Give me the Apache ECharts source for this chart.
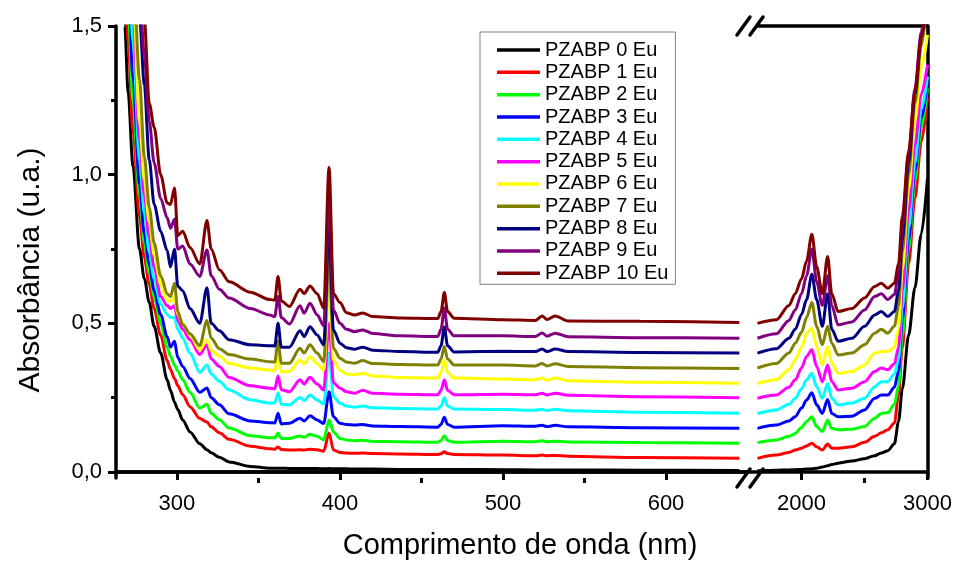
<!DOCTYPE html>
<html>
<head>
<meta charset="utf-8">
<script src="https://cdn.jsdelivr.net/npm/echarts@6/dist/echarts.min.js"></script>
<style>
  html, body { margin: 0; padding: 0; background: #fff; }
  #chart { width: 955px; height: 563px; }
</style>
</head>
<body>
<div id="chart"></div>
<script>
const FONT = 'Liberation Sans, Arial, sans-serif';

// wavelengths (nm) of the two parts of the broken axis
const visNm = [265, 268, 270, 273, 277, 280, 283, 286, 290, 294, 296, 298.5, 300.5, 303.5, 308, 314, 318.4, 321, 326, 332,
  345, 357, 360, 362, 364, 369, 375.5, 378, 381.6, 386, 390, 393.3, 396, 400, 404, 409, 414, 420, 437, 460,
  462, 464, 466, 470, 500, 520, 524, 527, 532, 540, 584, 645];
const nirNm = [1650, 1800, 1900, 1950, 2000, 2040, 2082, 2120, 2165, 2207, 2240, 2290, 2400, 2500, 2580, 2633, 2685, 2737,
  2770, 2800, 2850, 2900, 2950, 3000];

const names = ['PZABP 0 Eu', 'PZABP 1 Eu', 'PZABP 2 Eu', 'PZABP 3 Eu', 'PZABP 4 Eu', 'PZABP 5 Eu',
  'PZABP 6 Eu', 'PZABP 7 Eu', 'PZABP 8 Eu', 'PZABP 9 Eu', 'PZABP 10 Eu'];
const colors = ['#000000', '#ff0000', '#00ff00', '#0000ff', '#00ffff', '#ff00ff',
  '#ffff00', '#808000', '#000080', '#800080', '#800000'];

// absorbance, UV-Vis part
const vis0 = [2.2, 1.5, 1.28, 1.03, 0.75, 0.65, 0.57, 0.49, 0.40, 0.31, 0.275, 0.235, 0.21, 0.175, 0.135, 0.095, 0.075, 0.065, 0.05, 0.034,
  0.019, 0.013, 0.013, 0.013, 0.013, 0.012, 0.012, 0.012, 0.012, 0.012, 0.011, 0.012, 0.011, 0.011, 0.011, 0.01, 0.01, 0.01, 0.009, 0.009,
  0.009, 0.009, 0.009, 0.009, 0.008, 0.007, 0.007, 0.007, 0.007, 0.007, 0.006, 0.005];
const vis1 = [2.5, 1.7, 1.45, 1.15, 0.86, 0.72, 0.63, 0.55, 0.46, 0.375, 0.345, 0.315, 0.29, 0.26, 0.22, 0.18, 0.168, 0.152, 0.132, 0.11,
  0.087, 0.078, 0.077, 0.084, 0.076, 0.074, 0.075, 0.074, 0.077, 0.075, 0.07, 0.131, 0.074, 0.066, 0.064, 0.063, 0.064, 0.062, 0.061, 0.059,
  0.062, 0.068, 0.062, 0.059, 0.057, 0.055, 0.057, 0.055, 0.056, 0.053, 0.049, 0.046];
const vis2 = [2.6, 1.85, 1.56, 1.25, 0.93, 0.77, 0.67, 0.59, 0.50, 0.42, 0.39, 0.36, 0.34, 0.31, 0.268, 0.215, 0.228, 0.198, 0.176, 0.148,
  0.122, 0.115, 0.115, 0.131, 0.113, 0.113, 0.121, 0.117, 0.127, 0.12, 0.108, 0.175, 0.135, 0.113, 0.108, 0.105, 0.107, 0.103, 0.102, 0.1,
  0.106, 0.122, 0.106, 0.1, 0.104, 0.102, 0.105, 0.102, 0.104, 0.101, 0.099, 0.097];
const vis3 = [2.7, 1.95, 1.66, 1.33, 0.97, 0.8, 0.7, 0.61, 0.53, 0.455, 0.42, 0.44, 0.385, 0.355, 0.315, 0.268, 0.283, 0.25, 0.226, 0.196,
  0.172, 0.166, 0.165, 0.198, 0.162, 0.164, 0.181, 0.172, 0.189, 0.175, 0.163, 0.27, 0.186, 0.164, 0.16, 0.158, 0.16, 0.155, 0.153, 0.151,
  0.16, 0.184, 0.16, 0.151, 0.156, 0.154, 0.157, 0.153, 0.157, 0.152, 0.149, 0.147];
const vis4 = [2.8, 2.05, 1.76, 1.45, 1.05, 0.87, 0.74, 0.65, 0.565, 0.53, 0.52, 0.52, 0.48, 0.45, 0.40, 0.335, 0.36, 0.33, 0.305, 0.276,
  0.243, 0.232, 0.232, 0.266, 0.228, 0.226, 0.251, 0.24, 0.259, 0.242, 0.229, 0.40, 0.254, 0.231, 0.222, 0.218, 0.222, 0.216, 0.214, 0.212,
  0.222, 0.25, 0.222, 0.212, 0.21, 0.208, 0.211, 0.207, 0.211, 0.206, 0.201, 0.198];
const vis5 = [2.9, 2.15, 1.86, 1.55, 1.12, 0.93, 0.79, 0.69, 0.59, 0.56, 0.55, 0.56, 0.51, 0.48, 0.445, 0.395, 0.428, 0.38, 0.355, 0.318,
  0.29, 0.282, 0.28, 0.323, 0.277, 0.27, 0.31, 0.296, 0.319, 0.296, 0.276, 0.5, 0.30, 0.282, 0.27, 0.265, 0.275, 0.265, 0.262, 0.26,
  0.275, 0.31, 0.275, 0.26, 0.262, 0.26, 0.265, 0.259, 0.265, 0.258, 0.253, 0.25];
const vis6 = [3.0, 2.25, 1.96, 1.63, 1.18, 0.98, 0.84, 0.73, 0.63, 0.575, 0.575, 0.59, 0.53, 0.5, 0.46, 0.41, 0.445, 0.41, 0.39, 0.365,
  0.35, 0.343, 0.34, 0.39, 0.337, 0.338, 0.377, 0.364, 0.388, 0.365, 0.343, 0.62, 0.377, 0.343, 0.33, 0.327, 0.332, 0.323, 0.318, 0.316,
  0.335, 0.377, 0.335, 0.316, 0.313, 0.31, 0.316, 0.309, 0.316, 0.307, 0.302, 0.299];
const vis7 = [3.1, 2.35, 2.06, 1.72, 1.32, 1.06, 0.89, 0.77, 0.66, 0.60, 0.59, 0.635, 0.54, 0.495, 0.465, 0.425, 0.51, 0.45, 0.415, 0.395,
  0.38, 0.371, 0.37, 0.44, 0.366, 0.366, 0.416, 0.40, 0.428, 0.40, 0.371, 0.72, 0.416, 0.383, 0.37, 0.366, 0.375, 0.365, 0.362, 0.36,
  0.38, 0.422, 0.38, 0.36, 0.36, 0.357, 0.365, 0.357, 0.364, 0.355, 0.351, 0.348];
const vis8 = [3.2, 2.5, 2.2, 1.85, 1.53, 1.3, 1.05, 0.9, 0.81, 0.745, 0.69, 0.75, 0.625, 0.61, 0.55, 0.50, 0.62, 0.50, 0.475, 0.445,
  0.428, 0.425, 0.424, 0.50, 0.42, 0.42, 0.475, 0.456, 0.489, 0.461, 0.428, 0.82, 0.478, 0.433, 0.418, 0.413, 0.42, 0.41, 0.405, 0.403,
  0.425, 0.488, 0.425, 0.404, 0.406, 0.405, 0.414, 0.405, 0.414, 0.405, 0.402, 0.40];
const vis9 = [3.3, 2.6, 2.3, 1.95, 1.62, 1.4, 1.18, 1.04, 0.92, 0.855, 0.82, 0.85, 0.75, 0.76, 0.70, 0.658, 0.747, 0.66, 0.615, 0.585,
  0.55, 0.528, 0.523, 0.59, 0.52, 0.498, 0.559, 0.534, 0.568, 0.529, 0.492, 0.92, 0.545, 0.50, 0.48, 0.472, 0.478, 0.466, 0.458, 0.456,
  0.48, 0.552, 0.48, 0.458, 0.458, 0.456, 0.468, 0.457, 0.467, 0.455, 0.452, 0.45];
const vis10 = [3.4, 2.7, 2.4, 2.05, 1.75, 1.52, 1.24, 1.16, 1.0, 0.905, 0.9, 0.955, 0.795, 0.81, 0.755, 0.70, 0.846, 0.75, 0.68, 0.64,
  0.605, 0.58, 0.578, 0.658, 0.575, 0.557, 0.615, 0.60, 0.626, 0.60, 0.551, 1.025, 0.60, 0.57, 0.536, 0.528, 0.535, 0.523, 0.518, 0.516,
  0.54, 0.604, 0.54, 0.517, 0.512, 0.51, 0.525, 0.513, 0.525, 0.508, 0.507, 0.503];

// absorbance, NIR part
const nir0 = [0.004, 0.006, 0.007, 0.008, 0.009, 0.01, 0.011, 0.013, 0.017, 0.021, 0.025, 0.03, 0.037, 0.045, 0.055, 0.064, 0.072, 0.095,
  0.17, 0.28, 0.46, 0.62, 0.80, 0.99];
const nir1 = [0.046, 0.057, 0.066, 0.074, 0.08, 0.088, 0.097, 0.085, 0.074, 0.094, 0.08, 0.08, 0.085, 0.10, 0.12, 0.132, 0.142, 0.165,
  0.26, 0.42, 0.70, 0.92, 1.11, 1.26];
const nir2 = [0.099, 0.108, 0.12, 0.13, 0.15, 0.17, 0.186, 0.153, 0.136, 0.175, 0.147, 0.142, 0.144, 0.153, 0.181, 0.197, 0.20, 0.228,
  0.29, 0.46, 0.75, 0.98, 1.16, 1.29];
const nir3 = [0.147, 0.158, 0.172, 0.186, 0.215, 0.242, 0.267, 0.226, 0.197, 0.244, 0.197, 0.186, 0.188, 0.209, 0.248, 0.259, 0.259, 0.285,
  0.34, 0.51, 0.78, 1.01, 1.19, 1.31];
const nir4 = [0.197, 0.209, 0.228, 0.248, 0.28, 0.31, 0.332, 0.287, 0.248, 0.298, 0.248, 0.226, 0.232, 0.248, 0.287, 0.304, 0.304, 0.33,
  0.38, 0.55, 0.82, 1.04, 1.22, 1.33];
const nir5 = [0.248, 0.259, 0.285, 0.31, 0.35, 0.389, 0.411, 0.355, 0.304, 0.36, 0.304, 0.276, 0.282, 0.304, 0.338, 0.35, 0.344, 0.364,
  0.42, 0.61, 0.88, 1.10, 1.27, 1.37];
const nir6 = [0.298, 0.31, 0.345, 0.377, 0.42, 0.467, 0.484, 0.422, 0.36, 0.422, 0.366, 0.332, 0.338, 0.36, 0.40, 0.405, 0.405, 0.42,
  0.48, 0.68, 0.95, 1.18, 1.36, 1.47];
const nir7 = [0.35, 0.365, 0.40, 0.433, 0.47, 0.52, 0.57, 0.49, 0.428, 0.49, 0.433, 0.394, 0.40, 0.428, 0.467, 0.48, 0.467, 0.49,
  0.56, 0.74, 1.00, 1.24, 1.43, 1.6];
const nir8 = [0.40, 0.415, 0.45, 0.48, 0.53, 0.58, 0.665, 0.58, 0.49, 0.60, 0.48, 0.44, 0.45, 0.49, 0.528, 0.54, 0.523, 0.54,
  0.61, 0.78, 1.04, 1.27, 1.46, 1.62];
const nir9 = [0.45, 0.465, 0.51, 0.545, 0.60, 0.66, 0.75, 0.64, 0.56, 0.66, 0.56, 0.495, 0.505, 0.545, 0.59, 0.60, 0.58, 0.597,
  0.67, 0.83, 1.07, 1.29, 1.48, 1.64];
const nir10 = [0.50, 0.512, 0.56, 0.60, 0.65, 0.71, 0.80, 0.69, 0.60, 0.725, 0.60, 0.54, 0.55, 0.585, 0.624, 0.635, 0.618, 0.635,
  0.70, 0.86, 1.08, 1.28, 1.46, 1.6];

const visAll = [vis0, vis1, vis2, vis3, vis4, vis5, vis6, vis7, vis8, vis9, vis10];
const nirAll = [nir0, nir1, nir2, nir3, nir4, nir5, nir6, nir7, nir8, nir9, nir10];

const yLabels = [0, 0.5, 1.0, 1.5];
const yMinor = [0.25, 0.75, 1.25];
const visLabels = [300, 400, 500, 600];
const visMinor = [350, 450, 550];
const nirLabels = [2000, 3000];
const nirMinor = [2500];

const AXIS_W = 3.5;
const black = '#000';

const chart = echarts.init(document.getElementById('chart'));

const visRange = { min: 262.6, max: 650.3 };
const nirRange = { min: 1575, max: 3000 };
const yRange = { min: -0.02, max: 1.5 };

function xAxisBase(grid, range) {
  return {
    type: 'value', gridIndex: grid, min: range.min, max: range.max,
    splitLine: { show: false }
  };
}

const tickLabel = { color: black, fontSize: 22, fontFamily: FONT, margin: 15, formatter: v => String(v) };

const series = [];
names.forEach((name, i) => {
  const common = {
    name: name, type: 'line', symbol: 'none', showSymbol: false,
    smooth: 0.3, smoothMonotone: 'x',
    lineStyle: { width: 3, color: colors[i] },
    itemStyle: { color: colors[i] },
    animation: false
  };
  series.push(Object.assign({}, common, {
    xAxisIndex: 0, yAxisIndex: 0,
    data: visNm.map((x, k) => [x, visAll[i][k]])
  }));
  series.push(Object.assign({}, common, {
    xAxisIndex: 1, yAxisIndex: 2,
    data: nirNm.map((x, k) => [x, nirAll[i][k]])
  }));
});

// break marks "//" on the top and bottom axes
function breakMarks(yc) {
  const items = [{
    type: 'rect', z: 100,
    shape: { x: 739, y: yc - 4, width: 18, height: 8 },
    style: { fill: '#fff' }
  }];
  [737, 750].forEach(x0 => {
    items.push({
      type: 'line', z: 101,
      shape: { x1: x0, y1: yc + 9, x2: x0 + 13, y2: yc - 9 },
      style: { stroke: black, lineWidth: 3.5, lineCap: 'round' }
    });
  });
  return items;
}

const option = {
  backgroundColor: '#fff',
  animation: false,
  textStyle: { fontFamily: FONT },
  grid: [
    { left: 116, top: 26, width: 632, height: 452 },
    { left: 748, top: 26, width: 181, height: 452 }
  ],
  xAxis: [
    Object.assign(xAxisBase(0, visRange), {
      position: 'bottom',
      axisLine: { lineStyle: { color: black, width: AXIS_W } },
      axisTick: { customValues: visLabels, length: 8, lineStyle: { color: black, width: 3 } },
      axisLabel: Object.assign({ customValues: visLabels }, tickLabel)
    }),
    Object.assign(xAxisBase(1, nirRange), {
      position: 'bottom',
      axisLine: { lineStyle: { color: black, width: AXIS_W } },
      axisTick: { customValues: nirLabels, length: 8, lineStyle: { color: black, width: 3 } },
      axisLabel: Object.assign({ customValues: nirLabels }, tickLabel)
    }),
    Object.assign(xAxisBase(0, visRange), {
      position: 'top',
      axisLine: { lineStyle: { color: black, width: AXIS_W } },
      axisTick: { show: false }, axisLabel: { show: false }
    }),
    Object.assign(xAxisBase(1, nirRange), {
      position: 'top',
      axisLine: { lineStyle: { color: black, width: AXIS_W } },
      axisTick: { show: false }, axisLabel: { show: false }
    }),
    Object.assign(xAxisBase(0, visRange), {
      position: 'bottom',
      axisLine: { show: false },
      axisTick: { customValues: visMinor, length: 5, lineStyle: { color: black, width: 3 } },
      axisLabel: { show: false }
    }),
    Object.assign(xAxisBase(1, nirRange), {
      position: 'bottom',
      axisLine: { show: false },
      axisTick: { customValues: nirMinor, length: 5, lineStyle: { color: black, width: 3 } },
      axisLabel: { show: false }
    })
  ],
  yAxis: [
    {
      type: 'value', gridIndex: 0, position: 'left', min: yRange.min, max: yRange.max,
      splitLine: { show: false },
      axisLine: { show: true, lineStyle: { color: black, width: AXIS_W } },
      axisTick: { show: true, customValues: yLabels, length: 8, lineStyle: { color: black, width: 3 } },
      axisLabel: {
        customValues: yLabels, color: black, fontSize: 22, fontFamily: FONT, margin: 14,
        formatter: v => v.toFixed(1).replace('.', ',')
      }
    },
    {
      type: 'value', gridIndex: 0, position: 'left', min: yRange.min, max: yRange.max,
      splitLine: { show: false },
      axisLine: { show: false },
      axisTick: { show: true, customValues: yMinor, length: 5, lineStyle: { color: black, width: 3 } },
      axisLabel: { show: false }
    },
    {
      type: 'value', gridIndex: 1, position: 'right', min: yRange.min, max: yRange.max,
      splitLine: { show: false },
      axisLine: { show: true, lineStyle: { color: black, width: AXIS_W } },
      axisTick: { show: false }, axisLabel: { show: false }
    }
  ],
  legend: {
    data: names,
    orient: 'vertical',
    left: 480, top: 32,
    padding: [8, 7, 1, 17],
    icon: 'rect',
    itemWidth: 43, itemHeight: 3.5, itemGap: 2.33,
    backgroundColor: '#fff',
    borderColor: '#808080', borderWidth: 1,
    textStyle: { color: black, fontSize: 20, lineHeight: 20, fontFamily: FONT }
  },
  graphic: [
    ...breakMarks(26),
    ...breakMarks(478),
    {
      type: 'text', z: 100, x: 520, y: 546,
      style: {
        text: 'Comprimento de onda (nm)', fill: black,
        font: '29px ' + FONT, textAlign: 'center', textVerticalAlign: 'middle'
      }
    },
    {
      type: 'text', z: 100, x: 31, y: 270, rotation: Math.PI / 2,
      style: {
        text: 'Absorbância (u.a.)', fill: black,
        font: '30px ' + FONT, textAlign: 'center', textVerticalAlign: 'middle'
      }
    }
  ],
  series: series
};

chart.setOption(option);
</script>
</body>
</html>
